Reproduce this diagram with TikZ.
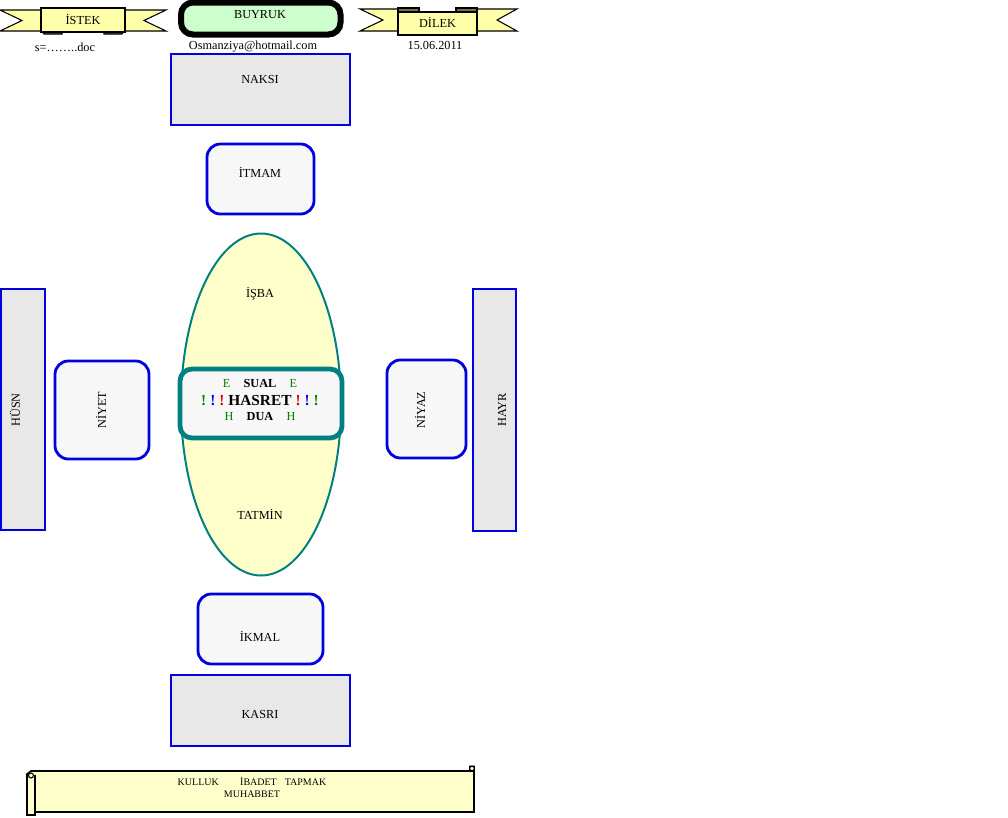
\documentclass[tikz,border=0pt]{standalone}
\usepackage{fontspec}
\setmainfont{Liberation Serif}
\definecolor{bl}{RGB}{0,0,225}
\definecolor{grayfill}{RGB}{232,232,232}
\definecolor{lightfill}{RGB}{247,247,247}
\definecolor{ellfill}{RGB}{255,255,204}
\definecolor{teal2}{RGB}{0,128,128}
\definecolor{ribbon}{RGB}{255,255,170}
\definecolor{buyfill}{RGB}{204,255,204}
\definecolor{grn}{RGB}{0,128,0}
\definecolor{rd}{RGB}{220,0,0}
\begin{document}
\begin{tikzpicture}[x=0.75pt,y=-0.75pt,
  sqbox/.style={draw=bl,line width=2.1pt,fill=grayfill},
  rbox/.style={draw=bl,line width=2.1pt,fill=lightfill,rounded corners=10pt},
  lbl/.style={font=\fontsize{9.2}{11}\selectfont,inner sep=0pt},
  rib/.style={draw=black,line width=0.8pt,fill=ribbon,line join=miter},
  fold/.style={draw=black,line width=0.8pt,fill=ribbon!45!black}]
\useasboundingbox (0,0) rectangle (1008,818);
% ---- ISTEK ribbon
\draw[rib] (0,10) -- (55,10) -- (55,31) -- (0,31) -- (22,20.5) -- cycle;
\draw[rib] (166,10) -- (111,10) -- (111,31) -- (166,31) -- (144,20.5) -- cycle;
\draw[fold] (41,30) -- (62,30) -- (62,34) -- (44,34) -- cycle;
\draw[fold] (125,30) -- (104,30) -- (104,34) -- (122,34) -- cycle;
\draw[rib] (41,8) rectangle (125,32);
\node[lbl] (istek) at (83,19) {İSTEK};
% ---- DILEK ribbon
\draw[rib] (360,9) -- (415,9) -- (415,31) -- (360,31) -- (383,20) -- cycle;
\draw[rib] (517,9) -- (460,9) -- (460,31) -- (517,31) -- (497,20) -- cycle;
\draw[fold] (398,8) -- (419,8) -- (419,12) -- (398,12) -- cycle;
\draw[fold] (477,8) -- (456,8) -- (456,12) -- (477,12) -- cycle;
\draw[rib] (398,12) rectangle (477,35);
\node[lbl] (dilek) at (437.5,22) {DİLEK};
% ---- BUYRUK
\draw[draw=black,line width=4.5pt,fill=buyfill,rounded corners=9pt] (181,2.5) rectangle (340.5,34.5);
\node[lbl] (buyruk) at (260,15) {BUYRUK};
% ---- captions
\node[lbl] (file) at (65,47) {s=……..doc};
\node[lbl] (mail) at (253,47) {Osmanziya@hotmail.com};
\node[lbl] (date) at (435,46) {15.06.2011};
% ---- NAKSI
\draw[sqbox] (171,54) rectangle (350,125);
\node[lbl] (naksi) at (260,79) {NAKSI};
% ---- ITMAM
\draw[rbox] (207,144) rectangle (314,214);
\node[lbl] (itmam) at (260,172) {İTMAM};
% ---- ellipse
\draw[draw=teal2,line width=1.5pt,fill=ellfill] (261,404.5) ellipse [x radius=80,y radius=171];
\node[lbl] (isba) at (260,294) {İŞBA};
\node[lbl] (tatmin) at (260,514) {TATMİN};
% ---- center
\draw[draw=teal2,line width=3.6pt,fill=lightfill,rounded corners=9pt] (180,369) rectangle (342,438);
\node[lbl] (sual) at (260,383) {\textcolor{grn}{E}\hspace{10pt}\textbf{SUAL}\hspace{10pt}\textcolor{grn}{E}};
\node[inner sep=0pt,font=\fontsize{11.5}{13}\selectfont\bfseries] (hasret) at (260,401)
  {\textcolor{grn}{!}\hspace{3pt}\textcolor{bl}{!}\hspace{3pt}\textcolor{rd}{!}\hspace{3pt}HASRET\hspace{3pt}\textcolor{rd}{!}\hspace{3pt}\textcolor{bl}{!}\hspace{3pt}\textcolor{grn}{!}};
\node[lbl] (dua) at (260,417) {\textcolor{grn}{H}\hspace{10pt}\textbf{DUA}\hspace{10pt}\textcolor{grn}{H}};
% ---- left
\draw[sqbox] (1,289) rectangle (45,530);
\node[lbl,rotate=90] (husn) at (15,410) {HÜSN};
\draw[rbox] (55,361) rectangle (149,459);
\node[lbl,rotate=90] (niyet) at (101,410) {NİYET};
% ---- right
\draw[rbox] (387,360) rectangle (466,458);
\node[lbl,rotate=90] (niyaz) at (420,410) {NİYAZ};
\draw[sqbox] (473,289) rectangle (516,531);
\node[lbl,rotate=90] (hayr) at (502,410) {HAYR};
% ---- IKMAL
\draw[rbox] (198,594) rectangle (323,664);
\node[lbl] (ikmal) at (260,636) {İKMAL};
% ---- KASRI
\draw[sqbox] (171,675) rectangle (350,746);
\node[lbl] (kasri) at (260,714) {KASRI};
% ---- scroll
\draw[draw=black,line width=1.2pt,fill=ellfill] (31,771) -- (470,771) -- (470,766.5) -- (474,766.5) -- (474,812) -- (35,812) -- (35,815) -- (27,815) -- (27,774) -- cycle;
\draw[draw=black,line width=1pt,fill=ellfill] (27,775) -- (27,815) -- (35,815) -- (35,775);
\draw[black,line width=0.8pt] (31,775.5) circle (2.5);
\draw[black,line width=0.8pt,fill=ellfill] (472,768.5) circle (2.3);
\draw[black,line width=0.8pt] (470,771) -- (474,771);
\node[inner sep=0pt,font=\fontsize{7.5}{9}\selectfont,align=center] (scroll) at (252,787)
  {KULLUK\hspace{16pt}İBADET\hspace{6pt}TAPMAK\\MUHABBET};
\end{tikzpicture}
\end{document}
